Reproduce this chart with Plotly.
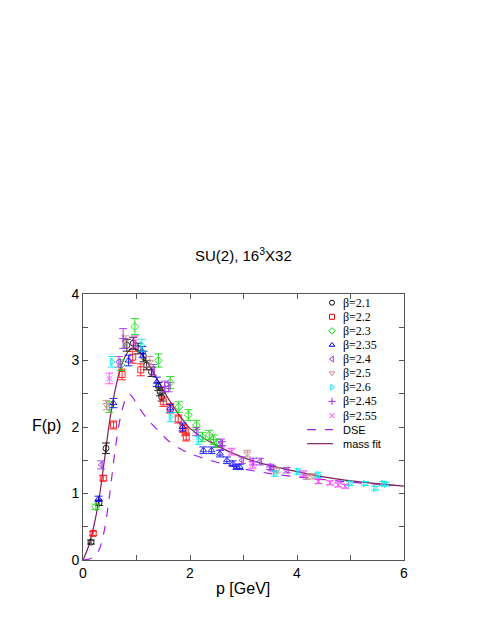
import plotly.graph_objects as go

# ---------------- data ----------------
b21_x = [0.15, 0.30, 0.43, 0.82, 0.94, 1.03, 1.13, 1.19, 1.28, 1.41, 1.44, 1.47]
b21_y = [0.27, 0.86, 1.68, 3.23, 3.26, 3.18, 3.06, 2.93, 2.83, 2.61, 2.53, 2.45]
b21_e = [0.03, 0.04, 0.08, 0.09, 0.09, 0.08, 0.08, 0.07, 0.07, 0.06, 0.06, 0.06]

b22_x = [0.19, 0.38, 0.57, 0.73, 0.93, 1.08, 1.50, 1.63, 1.78, 1.87, 1.91, 1.93]
b22_y = [0.40, 1.23, 2.03, 2.79, 3.05, 2.86, 2.38, 2.28, 2.12, 1.98, 1.93, 1.85]
b22_e = [0.03, 0.04, 0.06, 0.08, 0.09, 0.09, 0.07, 0.07, 0.06, 0.06, 0.06, 0.06]

b23_x = [0.24, 0.49, 0.71, 0.97, 1.41, 1.63, 1.79, 1.97, 2.12, 2.23, 2.36, 2.44, 2.50]
b23_y = [0.80, 2.30, 2.93, 3.51, 3.00, 2.67, 2.30, 2.18, 2.03, 1.85, 1.88, 1.81, 1.75]
b23_e = [0.04, 0.08, 0.08, 0.12, 0.10, 0.09, 0.08, 0.08, 0.07, 0.07, 0.07, 0.07, 0.06]

b235_x = [0.29, 0.57, 0.85, 1.11, 1.38, 1.63, 1.86, 2.25, 2.40, 2.56, 2.69, 2.80, 2.87, 2.93]
b235_y = [0.92, 2.36, 3.00, 3.13, 2.68, 2.28, 2.00, 1.65, 1.65, 1.60, 1.50, 1.45, 1.40, 1.40]
b235_e = [0.04, 0.07, 0.08, 0.08, 0.07, 0.06, 0.06, 0.05, 0.05, 0.05, 0.05, 0.04, 0.04, 0.04]

b24_x = [0.34, 0.67, 1.31, 1.60, 2.12, 2.58, 2.97, 3.31, 3.53, 3.81]
b24_y = [1.43, 2.98, 2.86, 2.60, 1.93, 1.76, 1.50, 1.48, 1.38, 1.35]
b24_e = [0.06, 0.08, 0.08, 0.07, 0.06, 0.06, 0.05, 0.05, 0.04, 0.04]

b25_x = [0.44, 0.79, 1.25, 3.07, 3.62, 4.18, 4.30]
b25_y = [2.33, 3.28, 2.98, 1.60, 1.35, 1.25, 1.26]
b25_e = [0.07, 0.09, 0.08, 0.05, 0.04, 0.04, 0.04]

b26_x = [0.54, 1.10, 1.64, 2.16, 3.59, 4.02, 4.40, 4.99, 5.27, 5.46, 5.61, 5.66]
b26_y = [2.98, 3.23, 2.15, 1.80, 1.30, 1.33, 1.28, 1.15, 1.15, 1.08, 1.15, 1.14]
b26_e = [0.08, 0.09, 0.07, 0.06, 0.04, 0.04, 0.04, 0.03, 0.03, 0.03, 0.03, 0.03]

b245_x = [0.75, 1.53, 2.60, 3.18, 3.50]
b245_y = [3.33, 2.61, 1.72, 1.48, 1.40]
b245_e = [0.15, 0.08, 0.06, 0.05, 0.04]

b255_x = [0.49, 0.97, 2.78, 3.17, 4.12, 4.40, 4.62, 4.77, 4.90]
b255_y = [2.73, 3.28, 1.63, 1.43, 1.30, 1.18, 1.16, 1.13, 1.11]
b255_e = [0.08, 0.09, 0.05, 0.05, 0.04, 0.03, 0.03, 0.03, 0.03]

dse_x = [0, 0.1, 0.2, 0.3, 0.4, 0.5, 0.6, 0.7, 0.8, 0.87, 0.95, 1.0, 1.2, 1.4, 1.6,
         1.8, 2.0, 2.5, 3.0, 3.5, 4.0, 4.5, 5.0, 5.5, 6.0]
dse_y = [0, 0.01, 0.05, 0.15, 0.45, 1.0, 1.65, 2.15, 2.43, 2.49, 2.42, 2.35, 2.12, 1.95,
         1.79, 1.68, 1.60, 1.47, 1.37, 1.30, 1.25, 1.21, 1.17, 1.14, 1.11]

fit_x = [0, 0.1, 0.2, 0.3, 0.4, 0.5, 0.6, 0.7, 0.8, 0.9, 1.0, 1.1, 1.2, 1.4, 1.6,
         1.8, 2.0, 2.5, 3.0, 3.5, 4.0, 4.5, 5.0, 5.5, 6.0]
fit_y = [0, 0.2, 0.5, 0.92, 1.5, 2.1, 2.55, 2.88, 3.08, 3.18, 3.17, 3.10, 2.98, 2.70,
         2.42, 2.18, 1.98, 1.72, 1.54, 1.42, 1.33, 1.25, 1.19, 1.15, 1.11]

labels = ["β=2.1", "β=2.2", "β=2.3", "β=2.35", "β=2.4", "β=2.5", "β=2.6", "β=2.45", "β=2.55"]
x_ticks = [0, 1, 2, 3, 4, 5, 6]
x_text = ["0", "", "2", "", "4", "", "6"]
y_ticks = [0, 0.5, 1, 1.5, 2, 2.5, 3, 3.5, 4]
y_text = ["0", "", "1", "", "2", "", "3", "", "4"]

series = [
    (b21_x, b21_y, b21_e, "#000000", "circle-open"),
    (b22_x, b22_y, b22_e, "#ff0000", "square-open"),
    (b23_x, b23_y, b23_e, "#00dd00", "diamond-open"),
    (b235_x, b235_y, b235_e, "#0000ff", "triangle-up-open"),
    (b24_x, b24_y, b24_e, "#9a30e0", "triangle-left-open"),
    (b25_x, b25_y, b25_e, "#c08888", "triangle-down-open"),
    (b26_x, b26_y, b26_e, "#00e8f0", "triangle-right-open"),
    (b245_x, b245_y, b245_e, "#a020f0", "cross-thin-open"),
    (b255_x, b255_y, b255_e, "#ff30ff", "x-thin-open"),
]
DSE_COLOR = "#a020f0"
FIT_COLOR = "#80205a"

fig = go.Figure()

fig.add_trace(go.Scatter(x=dse_x, y=dse_y, mode="lines", line=dict(color=DSE_COLOR, width=1.2, dash="dash", shape="spline", smoothing=0.8), showlegend=False, name="DSE"))
fig.add_trace(go.Scatter(x=fit_x, y=fit_y, mode="lines", line=dict(color=FIT_COLOR, width=1.2, shape="spline", smoothing=0.8), showlegend=False, name="mass fit"))

for (sx, sy, se, col, sym), lab in zip(series, labels):
    fig.add_trace(go.Scatter(
        x=sx, y=sy, mode="markers", name=lab, showlegend=False,
        marker=dict(symbol=sym, size=6, color=col, line=dict(color=col, width=1)),
        error_y=dict(type="data", array=se, visible=True, color=col, thickness=1, width=4),
        opacity=0.85,
    ))

# ---------------- layout geometry (page body has an 8px margin) ----------------
OFF = 8
W, H = 488 - OFF, 632 - OFF
L, R, T, B = 83, 404, 294, 560          # plot box in window pixels
def fx(px):
    return (px - L) / (R - L)
def fy(py):
    return (B - py) / (B - T)

# ---------------- manual legend (layout positions in overlay axes) ----------------
row0, step = 302.7, 14.1
sym_px, text_px = 332, 341
for i, ((sx, sy, se, col, sym), lab) in enumerate(zip(series, labels)):
    yy = fy(row0 + i * step)
    fig.add_trace(go.Scatter(x=[fx(sym_px)], y=[yy], xaxis="x2", yaxis="y2", mode="markers",
                             marker=dict(symbol=sym, size=5, color=col, line=dict(color=col, width=1)),
                             showlegend=False, hoverinfo="skip"))
    fig.add_annotation(x=fx(text_px), y=yy, xref="paper", yref="paper", text=lab, showarrow=False,
                       xanchor="left", yanchor="middle",
                       font=dict(family="Liberation Serif", size=12, color="#000"))

for j, (nm, col, dash) in enumerate([("DSE", DSE_COLOR, "dash"), ("mass fit", FIT_COLOR, "solid")]):
    yy = fy(row0 + (9 + j) * step)
    fig.add_trace(go.Scatter(x=[fx(307), fx(333)], y=[yy, yy], xaxis="x2", yaxis="y2", mode="lines",
                             line=dict(color=col, width=1.2, dash=dash), showlegend=False, hoverinfo="skip"))
    fig.add_annotation(x=fx(text_px), y=yy, xref="paper", yref="paper", text=nm, showarrow=False,
                       xanchor="left", yanchor="middle",
                       font=dict(family="Liberation Sans", size=11, color="#000"))

# titles
fig.add_annotation(x=fx(243), y=fy(255), xref="paper", yref="paper", text="SU(2), 16<sup>3</sup>X32",
                   showarrow=False, xanchor="center", yanchor="middle",
                   font=dict(family="Liberation Sans", size=15, color="#000"))
fig.add_annotation(x=fx(243), y=fy(588), xref="paper", yref="paper", text="p [GeV]",
                   showarrow=False, xanchor="center", yanchor="middle",
                   font=dict(family="Liberation Sans", size=16, color="#000"))
fig.add_annotation(x=fx(46), y=fy(425), xref="paper", yref="paper", text="F(p)",
                   showarrow=False, xanchor="center", yanchor="middle",
                   font=dict(family="Liberation Sans", size=16, color="#000"))

axcol = "#555555"
fig.update_layout(
    width=W, height=H,
    margin=dict(l=L - OFF, r=W - (R - OFF), t=T - OFF, b=H - (B - OFF)),
    paper_bgcolor="white", plot_bgcolor="white",
    showlegend=False,
    font=dict(family="Liberation Sans", size=14, color="#000"),
    xaxis=dict(range=[0, 6], tickvals=x_ticks, ticktext=x_text, ticks="inside", ticklen=5,
               tickcolor=axcol, showline=True, linecolor=axcol, linewidth=1, mirror="ticks",
               showgrid=False, zeroline=False, tickfont=dict(size=14)),
    yaxis=dict(range=[0, 4], tickvals=y_ticks, ticktext=y_text, ticks="inside", ticklen=5,
               tickcolor=axcol, showline=True, linecolor=axcol, linewidth=1, mirror="ticks",
               showgrid=False, zeroline=False, tickfont=dict(size=14)),
    xaxis2=dict(range=[0, 1], overlaying="x", visible=False, fixedrange=True),
    yaxis2=dict(range=[0, 1], overlaying="y", visible=False, fixedrange=True),
)

fig.write_html("out.html")
